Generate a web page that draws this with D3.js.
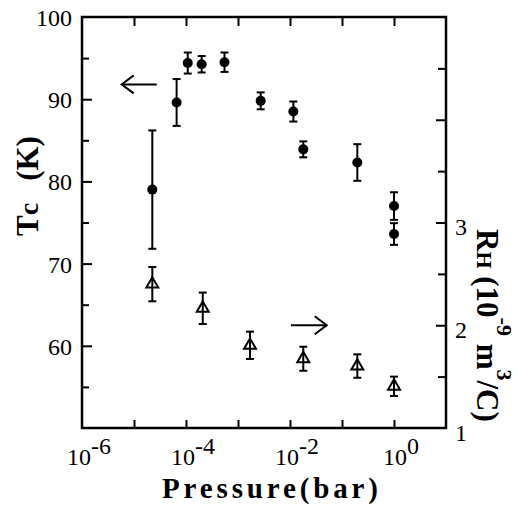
<!DOCTYPE html>
<html>
<head>
<meta charset="utf-8">
<script src="https://cdn.jsdelivr.net/npm/d3@7"></script>
<style>
  html, body { margin: 0; padding: 0; background: #fff; }
  svg { display: block; }
  text { font-family: "Liberation Serif", "Times New Roman", serif; fill: #000; }
</style>
</head>
<body>
<script>
// ---- data ----
const tcPressure = [2.25e-5, 6.6e-5, 1.08e-4, 2.0e-4, 5.5e-4, 2.73e-3, 1.16e-2, 1.8e-2, 0.197, 1.0, 1.0];
const tcValues   = [79.0, 89.6, 94.4, 94.25, 94.5, 89.8, 88.5, 83.9, 82.3, 77.0, 73.6];
const tcErrors   = [7.2, 2.85, 1.28, 1.0, 1.18, 1.03, 1.22, 0.97, 2.23, 1.68, 1.32];

const rhPressure = [2.25e-5, 2.1e-4, 1.7e-3, 1.8e-2, 0.197, 1.0];
const rhValues   = [2.40, 2.165, 1.805, 1.674, 1.603, 1.406];
const rhErrors   = [0.167, 0.153, 0.133, 0.117, 0.114, 0.094];

const xTickExponents = [-6, -4, -2, 0];
const xTickDecades   = [-5, -4, -3, -2, -1, 0];
const leftTickLabels = [60, 70, 80, 90, 100];
const rightTickLabels = [1, 2, 3];

// ---- layout ----
const W = 517, H = 507;
const L = 82, R = 446, T = 17, B = 428;

const svg = d3.select("body").append("svg").attr("width", W).attr("height", H);

const x = d3.scaleLog().domain([1e-6, 10]).range([L, R]);
const yL = d3.scaleLinear().domain([50, 100]).range([B, T]);
const yR = d3.scaleLinear().domain([1, 5]).range([B, T]);

const axisStyle = g => {
  g.select(".domain").remove();
  g.selectAll(".tick line").attr("stroke", "#000").attr("stroke-width", 2);
  g.selectAll(".tick text").remove();
};

const decadeVals = xTickDecades.map(e => Math.pow(10, e));
svg.append("g").attr("transform", `translate(0,${B})`)
  .call(d3.axisBottom(x).tickValues(decadeVals).tickSize(-8).tickFormat(""))
  .call(axisStyle);
svg.append("g").attr("transform", `translate(0,${T})`)
  .call(d3.axisTop(x).tickValues(decadeVals).tickSize(-9).tickFormat(""))
  .call(axisStyle);

const leftMajor = d3.range(60, 100, 10);
const leftMinor = d3.range(55, 100, 10);
svg.append("g").attr("transform", `translate(${L},0)`)
  .call(d3.axisLeft(yL).tickValues(leftMajor).tickSize(-10).tickFormat(""))
  .call(axisStyle);
svg.append("g").attr("transform", `translate(${L},0)`)
  .call(d3.axisLeft(yL).tickValues(leftMinor).tickSize(-7).tickFormat(""))
  .call(axisStyle);

const rightMajor = [2, 3, 4];
const rightMinor = [1.5, 2.5, 3.5, 4.5];
svg.append("g").attr("transform", `translate(${R},0)`)
  .call(d3.axisRight(yR).tickValues(rightMajor).tickSize(-10).tickFormat(""))
  .call(axisStyle);
svg.append("g").attr("transform", `translate(${R},0)`)
  .call(d3.axisRight(yR).tickValues(rightMinor).tickSize(-8).tickFormat(""))
  .call(axisStyle);

// frame
svg.append("rect").attr("x", L).attr("y", T).attr("width", R - L).attr("height", B - T)
  .attr("fill", "none").attr("stroke", "#000").attr("stroke-width", 2.5);

// tick labels
svg.selectAll(".ltl").data(leftTickLabels).enter().append("text")
  .attr("x", L - 10).attr("y", d => yL(d) + 9)
  .attr("text-anchor", "end").attr("font-size", 24).text(d => d);

svg.selectAll(".rtl").data(rightTickLabels).enter().append("text")
  .attr("x", R + 9).attr("y", d => yR(d) + 12.5)
  .attr("text-anchor", "start").attr("font-size", 24).text(d => d);

const xt = svg.selectAll(".xtl").data(xTickExponents).enter().append("text")
  .attr("x", d => x(Math.pow(10, d)) + 7).attr("y", 465)
  .attr("text-anchor", "middle").attr("font-size", 24);
xt.append("tspan").text("10");
xt.append("tspan").attr("dy", -11).attr("font-size", 24).text(d => d === 0 ? "0" : "-" + Math.abs(d));

// axis titles
svg.append("text").attr("x", 270).attr("y", 498).attr("text-anchor", "middle")
  .attr("font-size", 29).attr("font-weight", "bold")
  .attr("textLength", 216).attr("lengthAdjust", "spacing")
  .text("Pressure(bar)");

const lt = svg.append("text").attr("transform", "translate(38,186) rotate(-90)")
  .attr("text-anchor", "middle").attr("font-size", 31).attr("font-weight", "bold");
lt.append("tspan").text("T");
lt.append("tspan").attr("font-size", 28).text("c");
lt.append("tspan").attr("dx", 22).text("(K)");

const rt = svg.append("text").attr("transform", "translate(477,229) rotate(90)")
  .attr("text-anchor", "start").attr("font-size", 31).attr("font-weight", "bold");
rt.append("tspan").text("R");
rt.append("tspan").attr("font-size", 22).text("H");
rt.append("tspan").text(" (10");
rt.append("tspan").attr("font-size", 22).attr("dy", -20).text("-9");
rt.append("tspan").attr("dy", 20).text(" m");
rt.append("tspan").attr("font-size", 22).attr("dy", -20).text("3");
rt.append("tspan").attr("dy", 20).text("/C)");

// error bars helper
function errorBars(px, vals, errs, yScale, cls) {
  const data = px.map((p, i) => ({ p, v: vals[i], e: errs[i] }));
  const g = svg.append("g").attr("class", cls).attr("stroke", "#000").attr("stroke-width", 2);
  g.selectAll("line.v").data(data).enter().append("line")
    .attr("x1", d => x(d.p)).attr("x2", d => x(d.p))
    .attr("y1", d => yScale(d.v - d.e)).attr("y2", d => yScale(d.v + d.e));
  g.selectAll("line.t").data(data).enter().append("line")
    .attr("x1", d => x(d.p) - 4).attr("x2", d => x(d.p) + 4)
    .attr("y1", d => yScale(d.v + d.e)).attr("y2", d => yScale(d.v + d.e));
  g.selectAll("line.b").data(data).enter().append("line")
    .attr("x1", d => x(d.p) - 4).attr("x2", d => x(d.p) + 4)
    .attr("y1", d => yScale(d.v - d.e)).attr("y2", d => yScale(d.v - d.e));
  return data;
}

const tcData = errorBars(tcPressure, tcValues, tcErrors, yL, "tc-err");
svg.append("g").selectAll("circle").data(tcData).enter().append("circle")
  .attr("cx", d => x(d.p)).attr("cy", d => yL(d.v)).attr("r", 5).attr("fill", "#000");

const rhData = errorBars(rhPressure, rhValues, rhErrors, yR, "rh-err");
const tri = d3.symbol().type(d3.symbolTriangle).size(62);
svg.append("g").selectAll("path").data(rhData).enter().append("path")
  .attr("d", tri)
  .attr("transform", d => `translate(${x(d.p)},${yR(d.v)})`)
  .attr("fill", "none").attr("stroke", "#000").attr("stroke-width", 2);

// arrows
function arrow(p0, p1, yv, yScale, dir) {
  const x0 = x(p0), x1 = x(p1), yy = yScale(yv);
  const g = svg.append("g").attr("stroke", "#000").attr("stroke-width", 2).attr("fill", "none");
  g.append("line").attr("x1", x0).attr("x2", x1).attr("y1", yy).attr("y2", yy);
  const tipX = dir < 0 ? x0 : x1;
  g.append("path").attr("d", `M${tipX - dir * 12},${yy - 9} L${tipX},${yy} L${tipX - dir * 12},${yy + 9}`);
}
arrow(Math.pow(10, -5.237), Math.pow(10, -4.563), 91.8, yL, -1);
arrow(Math.pow(10, -1.981), Math.pow(10, -1.294), 2.0, yR, 1);
</script>
</body>
</html>
